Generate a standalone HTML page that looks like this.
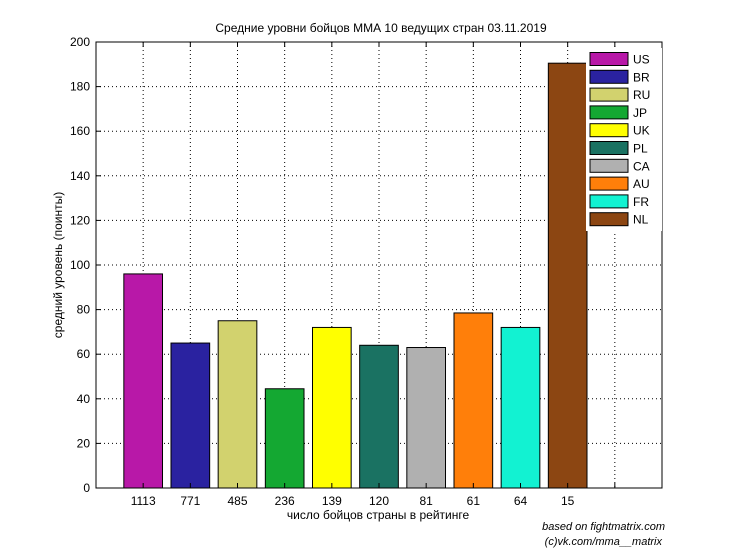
<!DOCTYPE html>
<html><head><meta charset="utf-8"><style>
body{margin:0;background:#fff}
svg text{font-family:"Liberation Sans",sans-serif;fill:#000}
</style></head><body>
<svg id="chart" width="730" height="548" xmlns="http://www.w3.org/2000/svg">
<rect width="730" height="548" fill="#fff"/>
<text x="381" y="32" font-size="12" text-anchor="middle">Средние уровни бойцов ММА 10 ведущих стран 03.11.2019</text>
<g id="grid"></g><g id="bars"></g><g id="axes"></g><g id="legend"></g>
<text x="378" y="519" font-size="12" text-anchor="middle">число бойцов страны в рейтинге</text>
<text transform="translate(62,265) rotate(-90)" font-size="12" text-anchor="middle">средний уровень (поинты)</text>
<text x="665" y="530" font-size="11" font-style="italic" text-anchor="end">based on fightmatrix.com</text>
<text x="662" y="545" font-size="11" font-style="italic" text-anchor="end">(c)vk.com/mma__matrix</text>
</svg>
<script>
const countries=["US","BR","RU","JP","UK","PL","CA","AU","FR","NL"];
const values=[96,65,75,44.5,72,64,63,78.5,72,190.5];
const counts=["1113","771","485","236","139","120","81","61","64","15"];
const colors=["#b818a8","#2a22a0","#d2d26e","#14a832","#ffff00","#1a7262","#b0b0b0","#ff7f0a","#12f2d2","#8c4612"];
const yTicks=[0,20,40,60,80,100,120,140,160,180,200];
const L=96,R=662,T=42,B=488,NS="http://www.w3.org/2000/svg";
const xs=i=>L+(R-L)*i/12;
const ys=v=>B-(B-T)*v/200;
function mk(tag,attrs,parent){const e=document.createElementNS(NS,tag);for(const k in attrs)e.setAttribute(k,attrs[k]);parent.appendChild(e);return e;}
const grid=document.getElementById('grid'),bars=document.getElementById('bars'),axes=document.getElementById('axes'),leg=document.getElementById('legend');
yTicks.forEach(v=>{
 const l=mk('line',{x1:L,x2:R,y1:ys(v),y2:ys(v),stroke:'#000','stroke-dasharray':'1,3','stroke-width':1},grid);
 
 
 const t=mk('line',{x1:L,x2:L+5,y1:ys(v),y2:ys(v),stroke:'#000'},axes);
 
 
 const tx=mk('text',{x:L-6,y:ys(v)+4,'font-size':12,'text-anchor':'end'},axes);tx.textContent=v;
 
 
});
for(let i=1;i<=11;i++){
 const g=mk('line',{x1:xs(i),x2:xs(i),y1:T,y2:B,stroke:'#000','stroke-dasharray':'1,3'},grid);
 
 
 [[T,T+5],[B-5,B]].forEach(p=>{const t=mk('line',{x1:xs(i),x2:xs(i),y1:p[0],y2:p[1],stroke:'#000'},axes);
 
 });
}
values.forEach((v,i)=>{
 const w=(R-L)/12*0.82,cx=xs(i+1);
 const r=mk('rect',{x:cx-w/2,y:ys(v),width:w,height:B-ys(v),fill:colors[i],stroke:'#000','stroke-width':1},bars);
 
 
 const t=mk('text',{x:cx,y:B+17,'font-size':12,'text-anchor':'middle'},axes);t.textContent=counts[i];
 
 
});
const fr=mk('rect',{x:L,y:T,width:R-L,height:B-T,fill:'none',stroke:'#000'},axes);


const lb=mk('rect',{x:586,y:48,width:R-586,height:183,fill:'#fff',stroke:'none'},leg);


countries.forEach((c,i)=>{
 const y=59+i*17.8;
 const s=mk('rect',{x:590,y:y-6.5,width:38,height:13,fill:colors[i],stroke:'#000'},leg);
 
 
 const t=mk('text',{x:633,y:y+4.5,'font-size':12},leg);t.textContent=c;
 
 
});
</script>
</body></html>
